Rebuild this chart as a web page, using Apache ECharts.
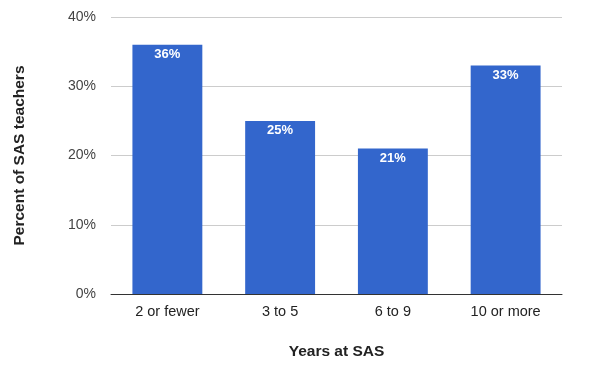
<!DOCTYPE html>
<html><head><meta charset="utf-8">
<script src="https://cdn.jsdelivr.net/npm/echarts@6/dist/echarts.min.js"></script>
<style>html,body{margin:0;padding:0;background:#fff}#c{width:589px;height:370px}</style>
</head><body><div id="c"></div>
<script>
const categories = ["2 or fewer", "3 to 5", "6 to 9", "10 or more"];
const values = [36, 25, 21, 33];
const yTicks = [0, 10, 20, 30, 40];
const chart = echarts.init(document.getElementById('c'));
const font = '"Liberation Sans", Arial, sans-serif';
chart.setOption({
  animation: false,
  textStyle: {fontFamily: font},
  grid: {left: 111, right: 27, top: 17, bottom: 76, containLabel: false},
  xAxis: {
    type: 'category', data: categories,
    name: 'Years at SAS', nameLocation: 'middle', nameGap: 50,
    nameTextStyle: {fontFamily: font, fontSize: 15.5, fontWeight: 'bold', color: '#222'},
    axisLine: {lineStyle: {color: '#333', width: 1}},
    axisTick: {show: false},
    axisLabel: {fontFamily: font, fontSize: 14.5, color: '#222', margin: 10}
  },
  yAxis: {
    type: 'value', min: yTicks[0], max: yTicks[yTicks.length - 1], interval: 10,
    name: 'Percent of SAS teachers', nameLocation: 'middle', nameGap: 83, nameRotate: 90,
    nameTextStyle: {fontFamily: font, fontSize: 15.5, fontWeight: 'bold', color: '#222'},
    axisLine: {show: false}, axisTick: {show: false},
    axisLabel: {fontFamily: font, fontSize: 14, color: '#444', margin: 15, formatter: v => v + '%'},
    splitLine: {lineStyle: {color: '#ccc', width: 1}}
  },
  series: [{
    type: 'bar', data: values, barCategoryGap: '38%',
    itemStyle: {color: '#3366CC'},
    label: {show: true, position: 'insideTop', distance: 3, color: '#fff', fontWeight: 'bold',
      fontFamily: font, fontSize: 13, formatter: p => p.value + '%'}
  }]
});
</script></body></html>
